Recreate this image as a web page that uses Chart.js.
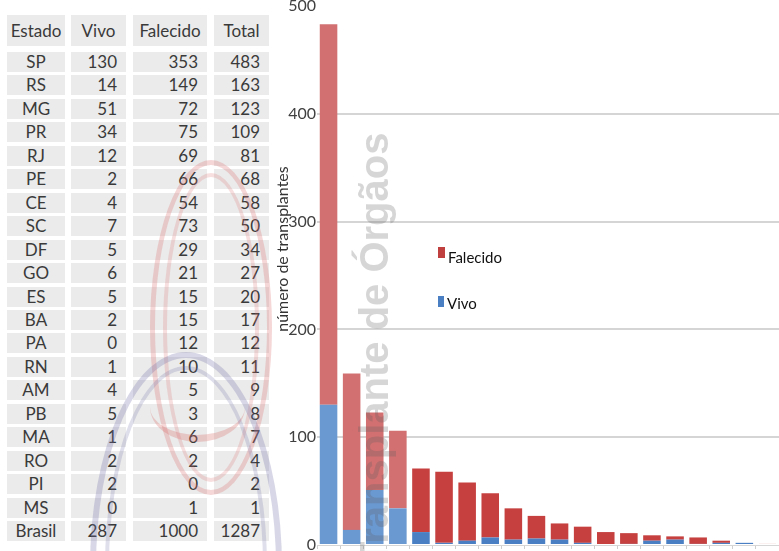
<!DOCTYPE html>
<html>
<head>
<meta charset="utf-8">
<script src="https://cdn.jsdelivr.net/npm/chart.js@4.4.1/dist/chart.umd.min.js"></script>
<style>
  html, body { margin: 0; padding: 0; background: #fff; }
  body { width: 779px; height: 551px; position: relative; overflow: hidden; font-family: Lato, "Open Sans", sans-serif; }
  #chartWrap { position: absolute; left: 0; top: 0; width: 779px; height: 551px; }
  .cell { position: absolute; background: #ebebeb; color: #3a3a3a; font-size: 17px; box-sizing: border-box; white-space: nowrap; }
  .ov { position: absolute; pointer-events: none; box-sizing: border-box; }
  .leg { position: absolute; font-size: 15px; line-height: 18px; color: #111; }
  .sw { position: absolute; }
</style>
</head>
<body>
<div id="table"></div>
<div id="chartWrap"><canvas id="c" width="779" height="551"></canvas></div>

<!-- decorative logo arcs -->
<div class="ov" style="left:150px;top:160px;width:122px;height:335px;border:5px solid rgba(220,110,110,0.28);border-radius:50%;"></div>
<div class="ov" style="left:163px;top:173px;width:96px;height:309px;border:4px solid rgba(220,110,110,0.22);border-radius:50%;"></div>
<div class="ov" style="left:150px;top:372px;width:95px;height:70px;border-bottom:7px solid rgba(220,110,110,0.3);border-radius:50%;"></div>
<div class="ov" style="left:90px;top:352px;width:192px;height:430px;border:6px solid rgba(110,110,170,0.28);border-radius:50%;"></div>
<div class="ov" style="left:105px;top:366px;width:162px;height:400px;border:4px solid rgba(110,110,170,0.22);border-radius:50%;"></div>

<!-- y axis title -->
<div class="ov" style="left:172px;top:240px;width:220px;height:18px;line-height:18px;text-align:center;font-size:16px;color:#333;transform:rotate(-90deg);transform-origin:50% 50%;">número de transplantes</div>

<!-- legend -->
<div class="sw" style="left:438px;top:247px;width:7px;height:11px;background:#c0403f;"></div>
<div class="leg" style="left:448px;top:248px;">Falecido</div>
<div class="sw" style="left:438px;top:296px;width:6px;height:11px;background:#4a7fc4;"></div>
<div class="leg" style="left:447px;top:294px;">Vivo</div>

<!-- watermark -->
<div class="ov" style="left:354px;top:566px;font-family:'Liberation Sans',Arial,sans-serif;font-weight:bold;font-size:40px;line-height:40px;white-space:nowrap;color:rgba(90,90,90,0.25);transform:rotate(-90deg);transform-origin:0 0;">Transplante de Órgãos</div>

<script>
// ---- table data ----
const headers = ["Estado", "Vivo", "Falecido", "Total"];
const states = ["SP","RS","MG","PR","RJ","PE","CE","SC","DF","GO","ES","BA","PA","RN","AM","PB","MA","RO","PI","MS","Brasil"];
const vivoTable = [130,14,51,34,12,2,4,7,5,6,5,2,0,1,4,5,1,2,2,0,287];
const falecidoTable = [353,149,72,75,69,66,54,73,29,21,15,15,12,10,5,3,6,2,0,1,1000];
const totalTable = [483,163,123,109,81,68,58,50,34,27,20,17,12,11,9,8,7,4,2,1,1287];

// ---- chart data ----
const barStates = ["SP","RS","MG","PR","RJ","PE","CE","SC","DF","GO","ES","BA","PA","RN","AM","PB","MA","RO","PI","MS"];
const vivoBars = [130,14,51,34,12,2,4,7,5,6,5,2,0,1,4,5,1,2,2,0];
const falecidoBars = [353,145,72,72,59,66,54,41,29,21,15,15,12,10,5,3,6,2,0,1];
const yTicks = [0,100,200,300,400,500];

// ---- build table ----
const colLeft = [7, 71, 133, 214];
const colWidth = [58, 55, 74, 55];
const tbl = document.getElementById('table');
function addCell(text, col, top, h, align) {
  const d = document.createElement('div');
  d.className = 'cell';
  d.textContent = text;
  d.style.left = colLeft[col] + 'px';
  d.style.width = colWidth[col] + 'px';
  d.style.top = top + 'px';
  d.style.height = h + 'px';
  d.style.lineHeight = h + 'px';
  d.style.textAlign = align;
  if (align === 'right') d.style.paddingRight = '9px';
  tbl.appendChild(d);
}
headers.forEach((h, i) => addCell(h, i, 15, 31, 'center'));
states.forEach((s, r) => {
  const top = Math.round(52 + r * 23.45);
  addCell(s, 0, top, 20, 'center');
  addCell(String(vivoTable[r]), 1, top, 20, 'right');
  addCell(String(falecidoTable[r]), 2, top, 20, 'right');
  addCell(String(totalTable[r]), 3, top, 20, 'right');
});

// ---- chart ----
const redDark = '#c5403f', redLight = '#d27071';
const blueDark = '#4a7fc4', blueLight = '#6a98d0';
new Chart(document.getElementById('c'), {
  type: 'bar',
  data: {
    labels: barStates,
    datasets: [
      { label: 'Vivo', data: vivoBars,
        backgroundColor: ctx => ctx.dataIndex < 4 ? blueLight : blueDark },
      { label: 'Falecido', data: falecidoBars,
        backgroundColor: ctx => ctx.dataIndex < 4 ? redLight : redDark }
    ]
  },
  options: {
    responsive: false,
    animation: false,
    layout: { padding: { left: 279, top: 6, right: 0, bottom: 0 } },
    datasets: { bar: { barPercentage: 0.76, categoryPercentage: 1.0 } },
    plugins: { legend: { display: false }, tooltip: { enabled: false } },
    scales: {
      x: {
        stacked: true,
        ticks: { display: false },
        grid: { display: true, drawOnChartArea: false, drawTicks: true, tickLength: 4, color: '#cfcfcf', offset: true },
        border: { display: true, color: '#d6d6d6', width: 1 },
        afterFit: s => { s.height = 6; s.paddingLeft = 0; s.paddingRight = 0; }
      },
      y: {
        stacked: true,
        min: 0, max: 500,
        afterBuildTicks: s => { s.ticks = yTicks.map(v => ({ value: v })); },
        ticks: { font: { family: 'Lato', size: 16 }, color: '#404040', padding: 1 },
        grid: {
          drawTicks: false,
          lineWidth: 2,
          color: ctx => (ctx.tick && (ctx.tick.value === 0 || ctx.tick.value === 500)) ? 'rgba(0,0,0,0)' : '#d5d5d5'
        },
        border: { display: false },
        afterFit: s => { s.width = 38; s.paddingTop = 0; s.paddingBottom = 0; }
      }
    }
  }
});
</script>
</body>
</html>
